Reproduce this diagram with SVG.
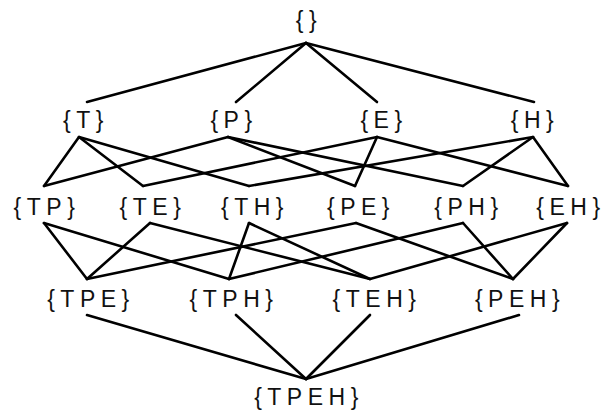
<svg xmlns="http://www.w3.org/2000/svg" width="605" height="414" viewBox="0 0 605 414">
<style>
.bg{fill:#fff}
.lbl{font-family:"Liberation Sans",Arial,sans-serif;font-size:23px;letter-spacing:5.5px;text-anchor:middle;fill:#111}
#edges line{stroke:#000;stroke-width:2.6;stroke-linecap:round}
</style>
<rect class="bg" x="0" y="0" width="605" height="414"/>
<g id="edges">
<line x1="306" y1="43" x2="87" y2="102"/>
<line x1="306" y1="43" x2="236" y2="102"/>
<line x1="306" y1="43" x2="377" y2="102"/>
<line x1="306" y1="43" x2="534" y2="102"/>
<line x1="79" y1="137" x2="44" y2="186"/>
<line x1="79" y1="137" x2="143" y2="186"/>
<line x1="79" y1="137" x2="249" y2="186"/>
<line x1="228" y1="137" x2="44" y2="186"/>
<line x1="228" y1="137" x2="355" y2="186"/>
<line x1="228" y1="137" x2="463" y2="186"/>
<line x1="377" y1="137" x2="143" y2="186"/>
<line x1="377" y1="137" x2="355" y2="186"/>
<line x1="377" y1="137" x2="568" y2="186"/>
<line x1="533" y1="137" x2="249" y2="186"/>
<line x1="533" y1="137" x2="463" y2="186"/>
<line x1="533" y1="137" x2="568" y2="186"/>
<line x1="44" y1="223" x2="87" y2="279"/>
<line x1="44" y1="223" x2="229" y2="279"/>
<line x1="150" y1="223" x2="87" y2="279"/>
<line x1="150" y1="223" x2="370" y2="279"/>
<line x1="249" y1="223" x2="229" y2="279"/>
<line x1="249" y1="223" x2="370" y2="279"/>
<line x1="356" y1="223" x2="87" y2="279"/>
<line x1="356" y1="223" x2="513" y2="279"/>
<line x1="463" y1="223" x2="229" y2="279"/>
<line x1="463" y1="223" x2="513" y2="279"/>
<line x1="567" y1="223" x2="370" y2="279"/>
<line x1="567" y1="223" x2="513" y2="279"/>
<line x1="87" y1="315" x2="306" y2="379"/>
<line x1="236" y1="315" x2="306" y2="379"/>
<line x1="370" y1="315" x2="306" y2="379"/>
<line x1="519" y1="315" x2="306" y2="379"/>
</g>
<g id="n-empty"><text class="lbl" x="309" y="28">{}</text></g>
<g id="n-T"><text class="lbl" x="86" y="128">{T}</text></g>
<g id="n-P"><text class="lbl" x="234" y="128">{P}</text></g>
<g id="n-E"><text class="lbl" x="384" y="128">{E}</text></g>
<g id="n-H"><text class="lbl" x="535" y="128">{H}</text></g>
<g id="n-TP"><text class="lbl" x="47" y="215">{TP}</text></g>
<g id="n-TE"><text class="lbl" x="153" y="215">{TE}</text></g>
<g id="n-TH"><text class="lbl" x="255" y="215">{TH}</text></g>
<g id="n-PE"><text class="lbl" x="361" y="215">{PE}</text></g>
<g id="n-PH"><text class="lbl" x="469" y="215">{PH}</text></g>
<g id="n-EH"><text class="lbl" x="571" y="215">{EH}</text></g>
<g id="n-TPE"><text class="lbl" x="91" y="307">{TPE}</text></g>
<g id="n-TPH"><text class="lbl" x="234" y="307">{TPH}</text></g>
<g id="n-TEH"><text class="lbl" x="377" y="307">{TEH}</text></g>
<g id="n-PEH"><text class="lbl" x="520" y="307">{PEH}</text></g>
<g id="n-TPEH"><text class="lbl" x="309" y="405">{TPEH}</text></g>
</svg>
